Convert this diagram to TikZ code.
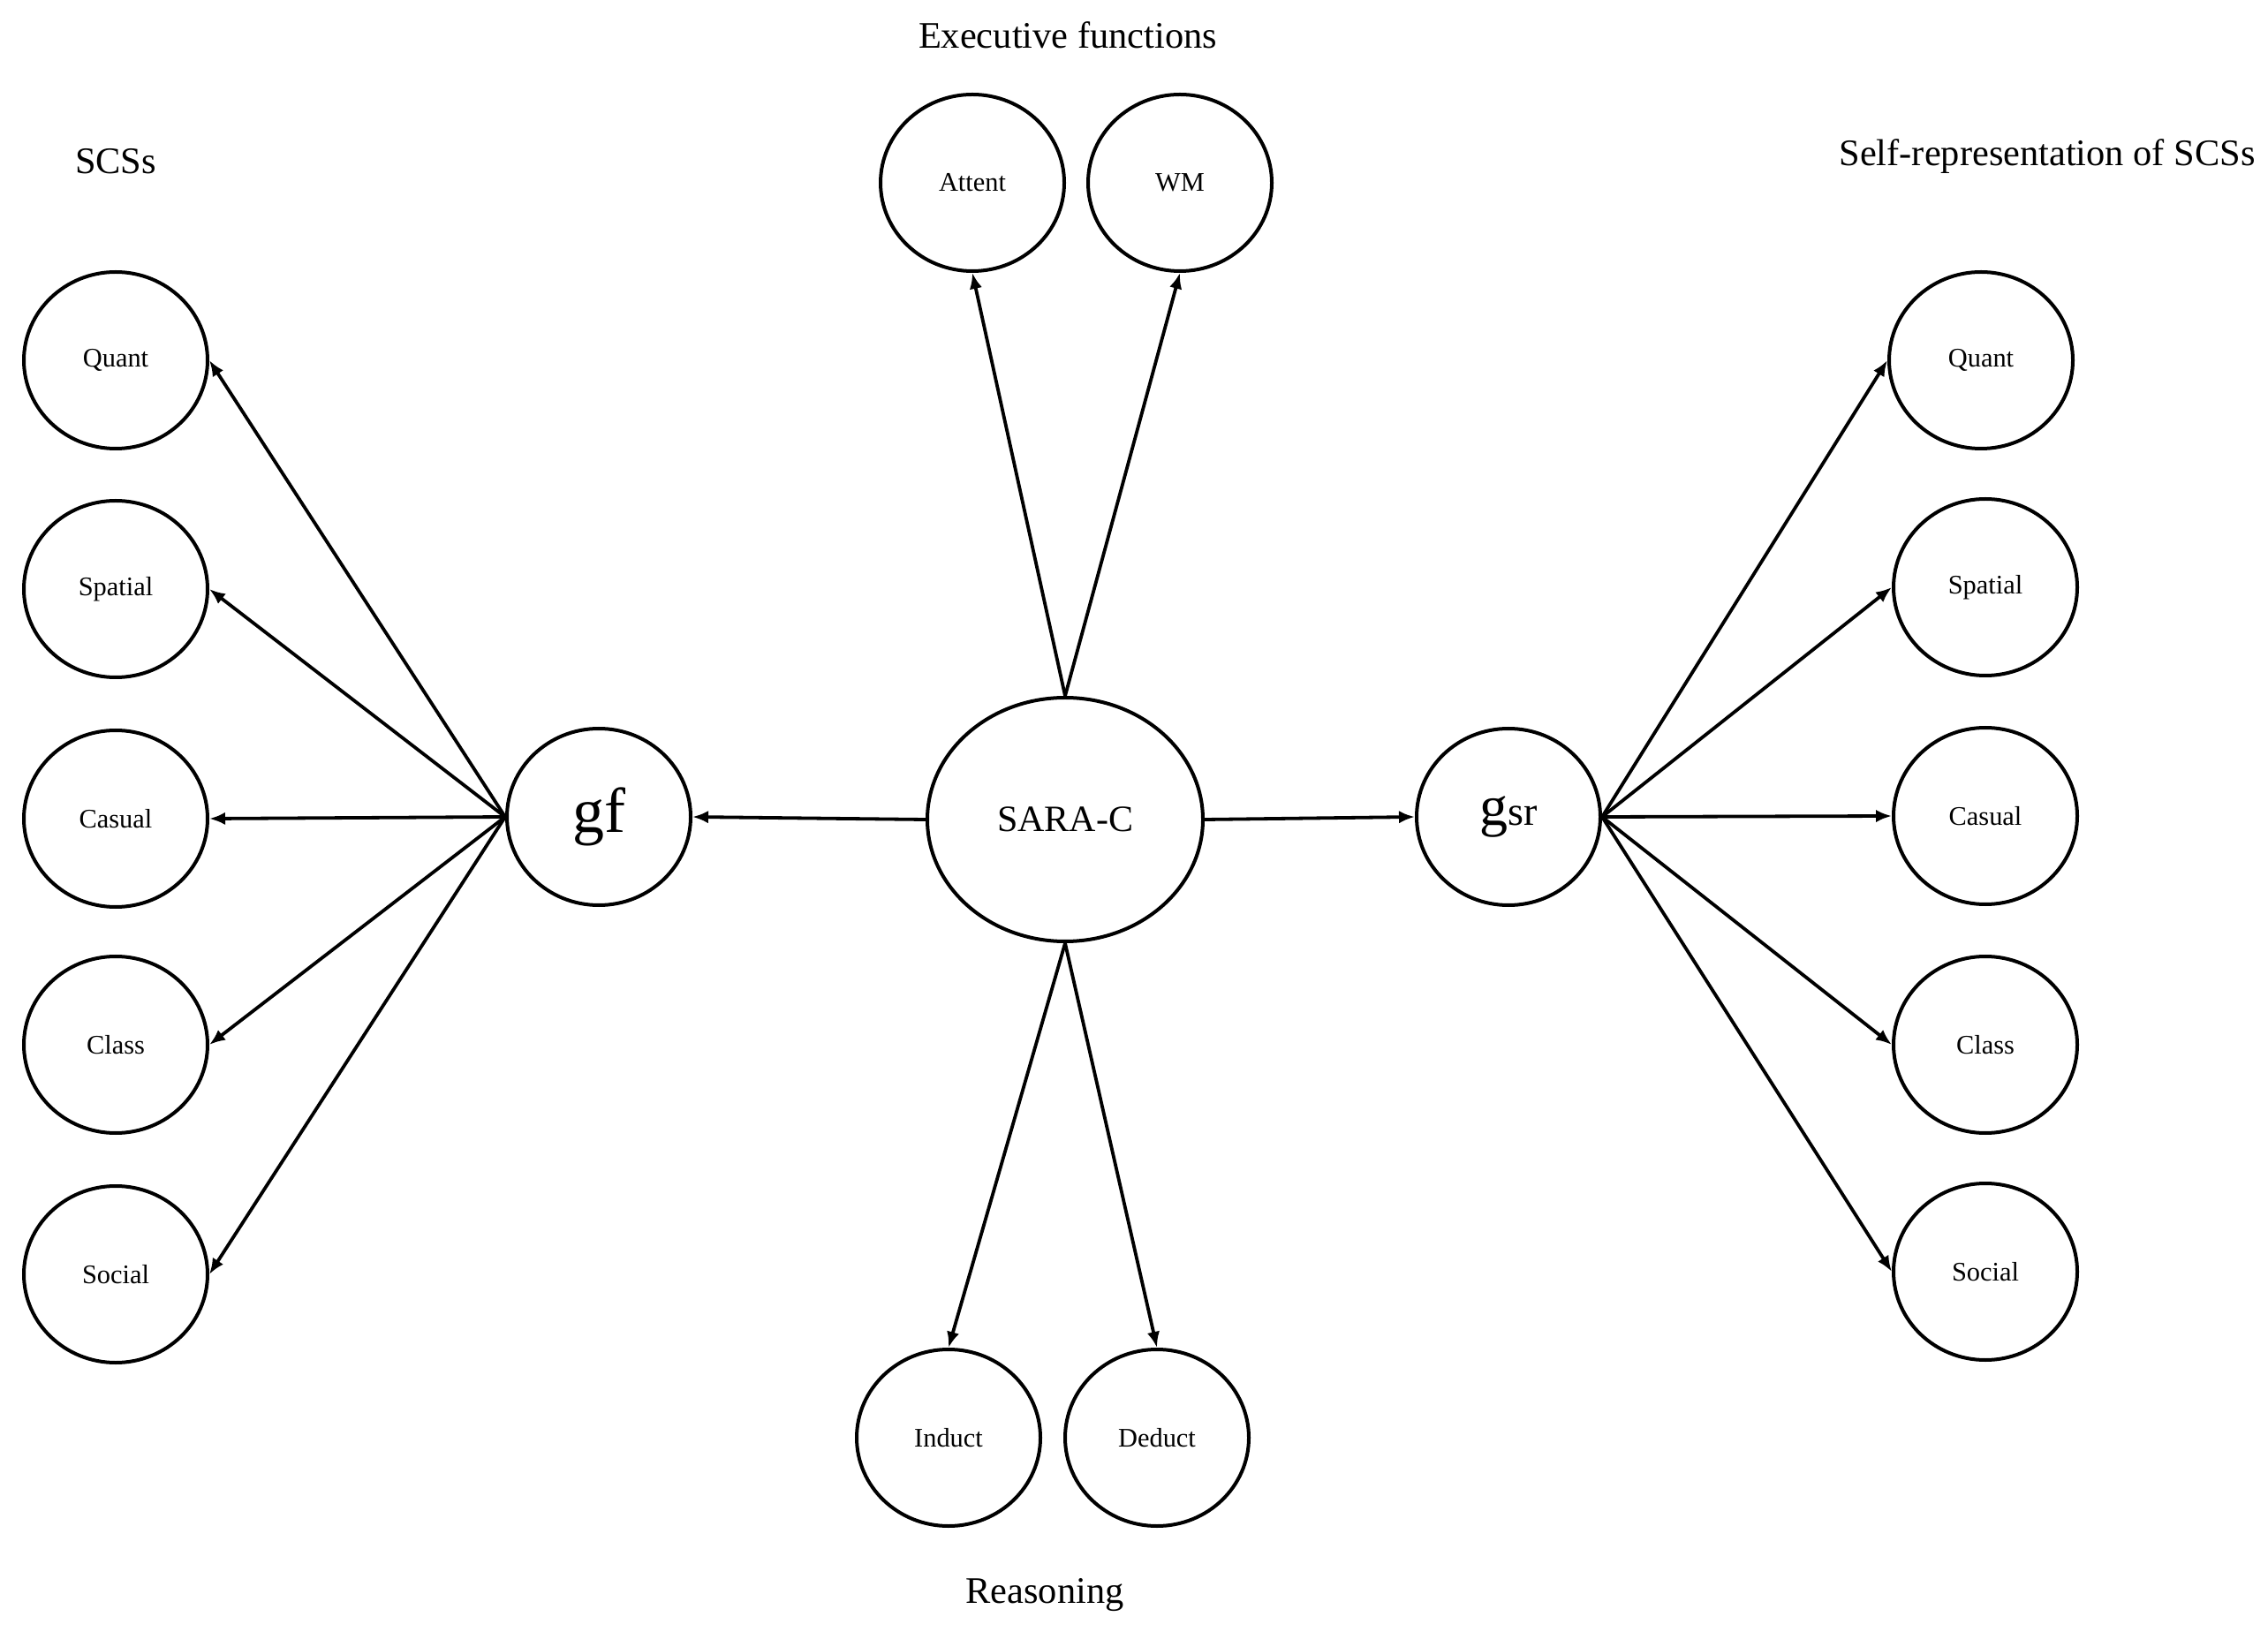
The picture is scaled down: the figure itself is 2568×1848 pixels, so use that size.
\documentclass[tikz,border=0pt]{standalone}
\usepackage{fontspec}
\setmainfont{Liberation Serif}
\usetikzlibrary{shapes.geometric,arrows.meta}
\begin{document}
\begin{tikzpicture}[x=0.25pt,y=-0.25pt,
  var/.style={draw,ellipse,line width=1pt,inner sep=0pt,minimum width=52pt,minimum height=50pt,font=\fontsize{7.6}{9}\selectfont},
  big/.style={draw,ellipse,line width=1pt,inner sep=0pt,minimum width=52pt,minimum height=50pt},
  ttl/.style={font=\fontsize{10.6}{12}\selectfont,inner sep=0pt},
  arr/.style={line width=0.95pt,-{Latex[length=4.5pt,width=3.6pt]}}]
\useasboundingbox (0,0) rectangle (2568,1848);
% titles
\node[ttl] (t1) at (1209,40) {Executive functions};
\node[ttl] (t2) at (131,183) {SCSs};
\node[ttl] (t3) at (2318,177) {Self-representation of SCSs};
\node[ttl] (t4) at (1183,1806) {Reasoning};
% left column
\node[var] (lq) at (131,408) {Quant};
\node[var] (ls) at (131,667) {Spatial};
\node[var] (lc) at (131,927) {Casual};
\node[var] (lk) at (131,1183) {Class};
\node[var] (lo) at (131,1443) {Social};
% right column
\node[var] (rq) at (2243,408) {Quant};
\node[var] (rs) at (2248,665) {Spatial};
\node[var] (rc) at (2248,924) {Casual};
\node[var] (rk) at (2248,1183) {Class};
\node[var] (ro) at (2248,1440) {Social};
% executive / reasoning
\node[var] (at) at (1101,207) {Attent};
\node[var] (wm) at (1336,207) {WM};
\node[var] (in) at (1074,1628) {Induct};
\node[var] (de) at (1310,1628) {Deduct};
% central
\node[big,font=\fontsize{18}{20}\selectfont] (gf) at (678,925) {gf};
\node[big] (gs) at (1708,925) {{\fontsize{16}{18}\selectfont g}{\fontsize{11.5}{12}\selectfont sr}};
\node[draw,ellipse,line width=1pt,inner sep=0pt,minimum width=78pt,minimum height=69pt,font=\fontsize{10.5}{12}\selectfont] (sc) at (1206,928) {SARA-C};
% arrows
\foreach \t in {lq,ls,lc,lk,lo} \draw[arr] (gf.west) -- (\t.east);
\foreach \t in {rq,rs,rc,rk,ro} \draw[arr] (gs.east) -- (\t.west);
\draw[arr] (sc.north) -- (at.south);
\draw[arr] (sc.north) -- (wm.south);
\draw[arr] (sc.south) -- (in.north);
\draw[arr] (sc.south) -- (de.north);
\draw[arr] (sc.west) -- (gf.east);
\draw[arr] (sc.east) -- (gs.west);
\end{tikzpicture}
\end{document}
